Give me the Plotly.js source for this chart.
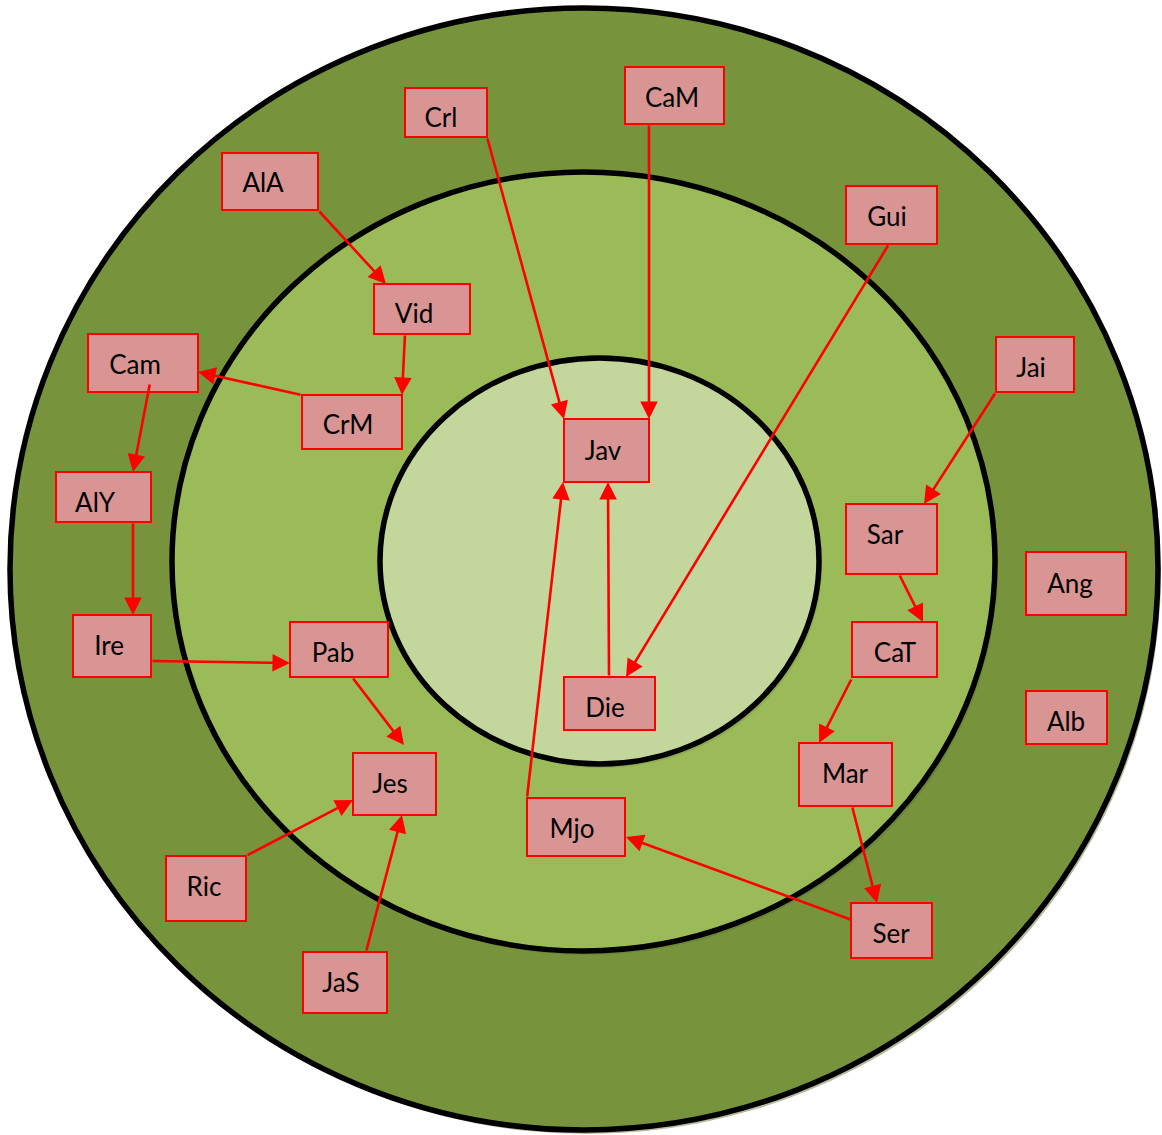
<!DOCTYPE html>
<html>
<head>
<meta charset="utf-8">
<script src="https://cdn.plot.ly/plotly-3.0.1.min.js"></script>
<style>html,body{margin:0;padding:0;background:#fff;}#chart{width:1162px;height:1135px;}</style>
</head>
<body>
<div id="chart"></div>
<script>
// Rings: center x, center y, radius x, radius y, fill
const ringNames = ['outer', 'middle', 'inner'];
const ringCx = [584, 583.5, 599.5];
const ringCy = [569, 561.5, 561];
const ringRx = [574, 411.5, 219.5];
const ringRy = [561, 389.5, 203];
const ringFill = ['#77933C', '#9BBB59', '#C3D69B'];

// Nodes (box bounds) and label centers
const nodeNames = ['Crl','CaM','AlA','Vid','Gui','Cam','CrM','Jai','Jav','AlY','Sar','Ang','Ire','Pab','CaT','Die','Alb','Mar','Jes','Mjo','Ric','Ser','JaS'];
const nodeX0 = [405, 625, 222, 374, 846, 88, 302, 996, 564, 56, 846, 1026, 73, 290, 852, 564, 1026, 799, 353, 527, 166, 851, 303];
const nodeY0 = [88, 67, 153, 284, 186, 334, 395, 337, 419, 472, 504, 552, 615, 622, 622, 677, 691, 743, 753, 798, 856, 903, 952];
const nodeX1 = [487, 724, 318, 470, 937, 198, 402, 1074, 649, 151, 937, 1126, 151, 388, 937, 655, 1107, 892, 436, 625, 246, 932, 387];
const nodeY1 = [137, 124, 210, 334, 244, 392, 449, 392, 482, 522, 574, 615, 677, 677, 677, 730, 744, 806, 815, 856, 921, 958, 1013];
const labelX = [441, 672, 263, 414, 887, 135, 348, 1031, 603, 95, 885, 1070, 109, 333, 895, 605, 1066, 845, 390, 572, 204, 891, 341];
const labelY = [120, 100, 185, 316, 219, 367, 427, 370, 453, 505, 537, 586, 648, 655, 655, 710, 724, 776, 786, 831, 889, 936, 985];

// Edges: from -> to, tail point and head point
const edgeFrom = ['AlA','Crl','CaM','Gui','Jai','Vid','CrM','Cam','AlY','Ire','Pab','Ric','JaS','Mjo','Die','Sar','CaT','Mar','Ser'];
const edgeTo   = ['Vid','Jav','Jav','Die','Sar','CrM','Cam','AlY','Ire','Pab','Jes','Jes','Jes','Jav','Jav','CaT','Mar','Ser','Mjo'];
const tailX = [318, 487, 649, 889, 996, 405, 302, 150, 133, 151, 352, 246, 366, 527, 609, 899, 852, 852, 852];
const tailY = [210, 137, 124, 244, 392, 334, 395, 383, 522, 661, 677, 856, 952, 798, 677, 574, 678, 806, 920];
const headX = [386, 564, 649, 626, 924, 402, 198, 133, 133, 290, 404, 353, 402, 563, 608, 923, 819, 877, 626];
const headY = [284, 419, 419, 677, 504, 395, 372, 472, 615, 663, 745, 800, 815, 482, 482, 622, 743, 903, 837];

const shapes = [];
// ring shadows
const shadowCol = ['#B3BBA0', '#6B8636', '#8FAA55'];
for (let i = 0; i < ringNames.length; i++) {
  shapes.push({type:'circle', xref:'x', yref:'y', layer:'below',
    x0: ringCx[i]-ringRx[i]+3, x1: ringCx[i]+ringRx[i]+3,
    y0: ringCy[i]-ringRy[i]+4, y1: ringCy[i]+ringRy[i]+4,
    fillcolor: shadowCol[i], line:{width:0}});
  shapes.push({type:'circle', xref:'x', yref:'y', layer:'below',
    x0: ringCx[i]-ringRx[i], x1: ringCx[i]+ringRx[i],
    y0: ringCy[i]-ringRy[i], y1: ringCy[i]+ringRy[i],
    fillcolor: ringFill[i], line:{color:'#000000', width:5.5}});
}
for (let i = 0; i < nodeNames.length; i++) {
  shapes.push({type:'rect', xref:'x', yref:'y', layer:'below',
    x0: nodeX0[i], x1: nodeX1[i], y0: nodeY0[i], y1: nodeY1[i],
    fillcolor:'#D99594', line:{color:'#FF0000', width:2}});
}

const annotations = [];
for (let i = 0; i < edgeFrom.length; i++) {
  annotations.push({x: headX[i], y: headY[i], ax: tailX[i], ay: tailY[i],
    xref:'x', yref:'y', axref:'x', ayref:'y', text:'', showarrow:true,
    arrowhead:2, arrowsize:1.35, arrowwidth:2.6, arrowcolor:'#FF0000', standoff:0, startstandoff:0});
}

const trace = {
  type:'scatter', mode:'text', x: labelX, y: labelY, text: nodeNames,
  textposition:'middle center', hoverinfo:'none',
  textfont:{family:'Lato, "Open Sans", sans-serif', size:26, color:'#000000'}
};

const layout = {
  width:1162, height:1135, margin:{l:0,r:0,t:0,b:0},
  paper_bgcolor:'#ffffff', plot_bgcolor:'#ffffff', showlegend:false,
  xaxis:{range:[0,1162], visible:false, fixedrange:true},
  yaxis:{range:[1135,0], visible:false, fixedrange:true},
  shapes: shapes, annotations: annotations
};
Plotly.newPlot('chart', [trace], layout, {displayModeBar:false, staticPlot:true});
</script>
</body>
</html>
